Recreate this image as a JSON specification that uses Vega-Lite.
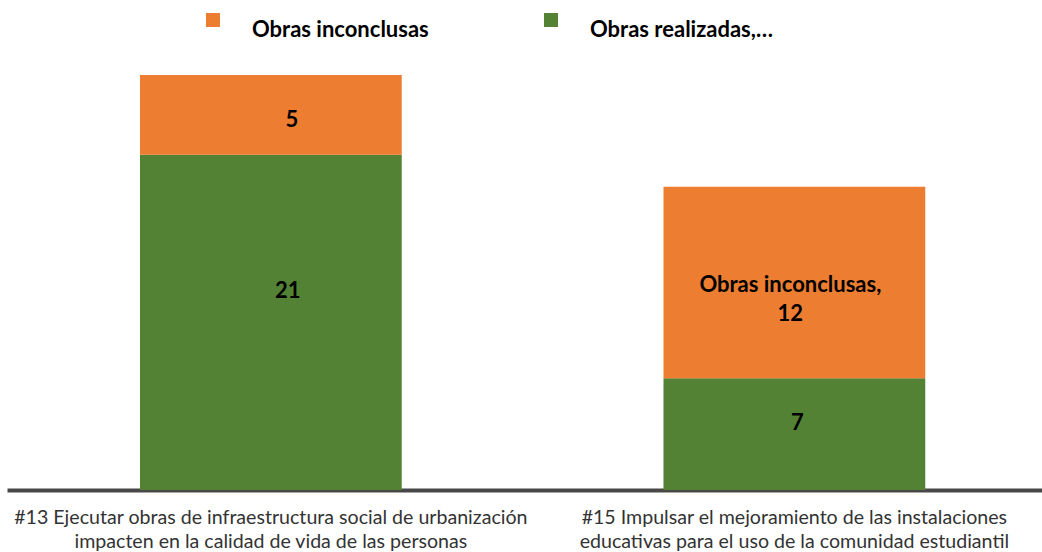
{
  "$schema": "https://vega.github.io/schema/vega-lite/v6.json",
  "width": 1035,
  "height": 415,
  "autosize": {"type": "none"},
  "padding": {"left": 7, "top": 75, "right": 0, "bottom": 62},
  "background": "white",
  "config": {"view": {"stroke": null}, "font": "Lato"},
  "data": {
    "values": [
      {"categoria": "#13 Ejecutar obras de infraestructura social de urbanización impacten en la calidad de vida de las personas", "serie": "Obras realizadas", "valor": 21, "etiqueta": "21"},
      {"categoria": "#13 Ejecutar obras de infraestructura social de urbanización impacten en la calidad de vida de las personas", "serie": "Obras inconclusas", "valor": 5, "etiqueta": "5"},
      {"categoria": "#15 Impulsar el mejoramiento de las instalaciones educativas para el uso de la comunidad estudiantil", "serie": "Obras realizadas", "valor": 7, "etiqueta": "7"},
      {"categoria": "#15 Impulsar el mejoramiento de las instalaciones educativas para el uso de la comunidad estudiantil", "serie": "Obras inconclusas", "valor": 12, "etiqueta": "Obras inconclusas,\n12"}
    ]
  },
  "transform": [
    {"stack": "valor", "groupby": ["categoria"], "sort": [{"field": "serie", "order": "descending"}], "as": ["v0", "v1"]},
    {"calculate": "(datum.v0 + datum.v1) / 2", "as": "vmid"}
  ],
  "encoding": {
    "x": {
      "field": "categoria",
      "type": "nominal",
      "sort": null,
      "scale": {"paddingInner": 0.5, "paddingOuter": 0.2385, "align": 0.5325},
      "axis": {
        "title": null,
        "labelAngle": 0,
        "labelLimit": 0,
        "ticks": false,
        "domainColor": "#484848",
        "domainWidth": 4,
        "labelFont": "Lato",
        "labelFontSize": 19.6,
        "labelColor": "#333333",
        "labelPadding": 18,
        "labelLineHeight": 24,
        "labelExpr": "indexof(datum.value, '#13') == 0 ? ['#13 Ejecutar obras de infraestructura social de urbanización', 'impacten en la calidad de vida de las personas'] : ['#15 Impulsar el mejoramiento de las instalaciones', 'educativas para el uso de la comunidad estudiantil']"
      }
    }
  },
  "layer": [
    {
      "mark": {"type": "bar"},
      "encoding": {
        "y": {"field": "v0", "type": "quantitative", "scale": {"domain": [0, 26], "nice": false}, "axis": null},
        "y2": {"field": "v1"},
        "color": {
          "field": "serie",
          "type": "nominal",
          "scale": {"domain": ["Obras inconclusas", "Obras realizadas"], "range": ["#ED7D31", "#548235"]},
          "legend": {
            "title": null,
            "orient": "none",
            "legendX": 195,
            "legendY": -66,
            "direction": "horizontal",
            "columnPadding": 111,
            "symbolType": "square",
            "symbolSize": 196,
            "symbolStrokeWidth": 0,
            "symbolOpacity": 1,
            "labelOffset": 28,
            "labelFont": "Lato",
            "labelFontSize": 22,
            "labelFontWeight": "bold",
            "labelColor": "#000000",
            "labelBaseline": "top",
            "labelLimit": 0,
            "labelExpr": "datum.label == 'Obras realizadas' ? 'Obras realizadas,…' : datum.label"
          }
        }
      }
    },
    {
      "transform": [{"filter": "datum.etiqueta == '5'"}],
      "mark": {"type": "text", "font": "Lato", "fontSize": 22, "fontWeight": "bold", "color": "#000000", "baseline": "middle", "dx": 21, "dy": 5},
      "encoding": {
        "y": {"field": "vmid", "type": "quantitative"},
        "text": {"field": "etiqueta", "type": "nominal"}
      }
    },
    {
      "transform": [{"filter": "datum.etiqueta == '21'"}],
      "mark": {"type": "text", "font": "Lato", "fontSize": 22, "fontWeight": "bold", "color": "#000000", "baseline": "middle", "dx": 17, "dy": -31},
      "encoding": {
        "y": {"field": "vmid", "type": "quantitative"},
        "text": {"field": "etiqueta", "type": "nominal"}
      }
    },
    {
      "transform": [{"filter": "datum.etiqueta == '7'"}],
      "mark": {"type": "text", "font": "Lato", "fontSize": 22, "fontWeight": "bold", "color": "#000000", "baseline": "middle", "dx": 3, "dy": -11},
      "encoding": {
        "y": {"field": "vmid", "type": "quantitative"},
        "text": {"field": "etiqueta", "type": "nominal"}
      }
    },
    {
      "transform": [{"filter": "datum.valor == 12"}],
      "mark": {"type": "text", "font": "Lato", "fontSize": 22, "fontWeight": "bold", "color": "#000000", "lineBreak": "\n", "lineHeight": 29, "baseline": "middle", "dx": -4, "dy": 2},
      "encoding": {
        "y": {"field": "vmid", "type": "quantitative"},
        "text": {"field": "etiqueta", "type": "nominal"}
      }
    }
  ]
}
